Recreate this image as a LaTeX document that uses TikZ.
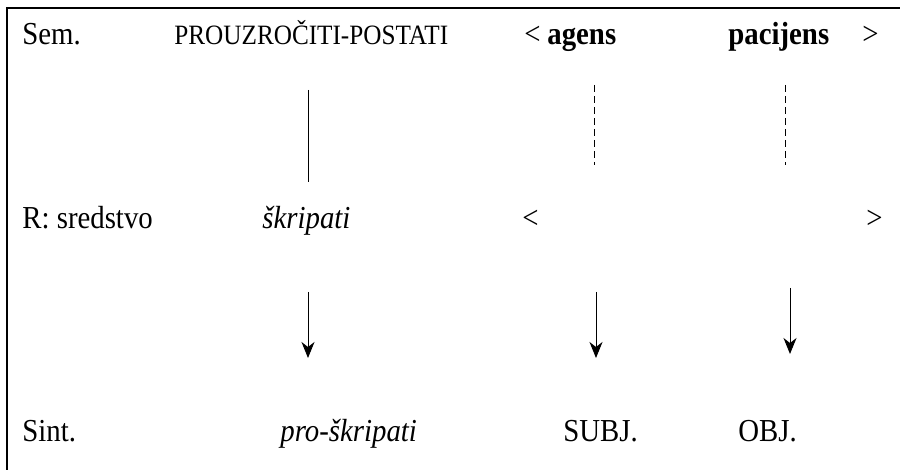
\documentclass[tikz,border=0pt]{standalone}
\usepackage{fontspec}
\setmainfont[FakeStretch=0.9]{Liberation Serif}
\usetikzlibrary{arrows.meta}
\begin{document}
\begin{tikzpicture}[x=0.5pt,y=-0.5pt,
  lbl/.style={anchor=base west,inner sep=0pt,font=\fontsize{16}{19}\selectfont},
  caps/.style={anchor=base west,inner sep=0pt,font=\fontsize{14}{16}\selectfont},
  solidln/.style={line width=0.5pt},
  dashln/.style={line width=0.5pt,dash pattern=on 3.5pt off 2pt},
  arr/.style={line width=0.5pt,-{Stealth[length=8pt,width=6.5pt,inset=2.5pt]}},
  frameln/.style={line width=1pt}]
\useasboundingbox (0,0) rectangle (900,470);
% frame
\coordinate (fTL) at (7,8);
\coordinate (fTR) at (900,8);
\coordinate (fBL) at (7,470);
\draw[frameln] (fTR) -- (fTL) -- (fBL);
% row 1
\node[lbl] (sem) at (22,45) {Sem.};
\node[caps] (prouz) at (174,45) {PROUZROČITI-POSTATI};
\node[lbl] (lt1) at (524,45) {<};
\node[lbl] (agens) at (547,45) {\textbf{agens}};
\node[lbl] (pac) at (728,45) {\textbf{pacijens}};
\node[lbl] (gt1) at (862,45) {>};
% row 2
\node[lbl] (rsred) at (22,229) {R: sredstvo};
\node[lbl] (skr) at (262,229) {\textit{škripati}};
\node[lbl] (lt2) at (522,229) {<};
\node[lbl] (gt2) at (866,229) {>};
% row 3
\node[lbl] (sint) at (22,441) {Sint.};
\node[lbl] (proskr) at (280,441) {\textit{pro-škripati}};
\node[lbl] (subj) at (563,441) {SUBJ.};
\node[lbl] (obj) at (738,441) {OBJ.};
% upper links
\coordinate (a1) at (308,90);  \coordinate (a2) at (308,182);
\coordinate (b1) at (594,85);  \coordinate (b2) at (594,165);
\coordinate (c1) at (785,85);  \coordinate (c2) at (785,165);
\draw[solidln] (a1) -- (a2);
\draw[dashln] (b1) -- (b2);
\draw[dashln] (c1) -- (c2);
% lower arrows
\coordinate (d1) at (308,292); \coordinate (d2) at (308,358);
\coordinate (e1) at (596,292); \coordinate (e2) at (596,358);
\coordinate (g1) at (790,288); \coordinate (g2) at (790,354);
\draw[arr] (d1) -- (d2);
\draw[arr] (e1) -- (e2);
\draw[arr] (g1) -- (g2);
\end{tikzpicture}
\end{document}
